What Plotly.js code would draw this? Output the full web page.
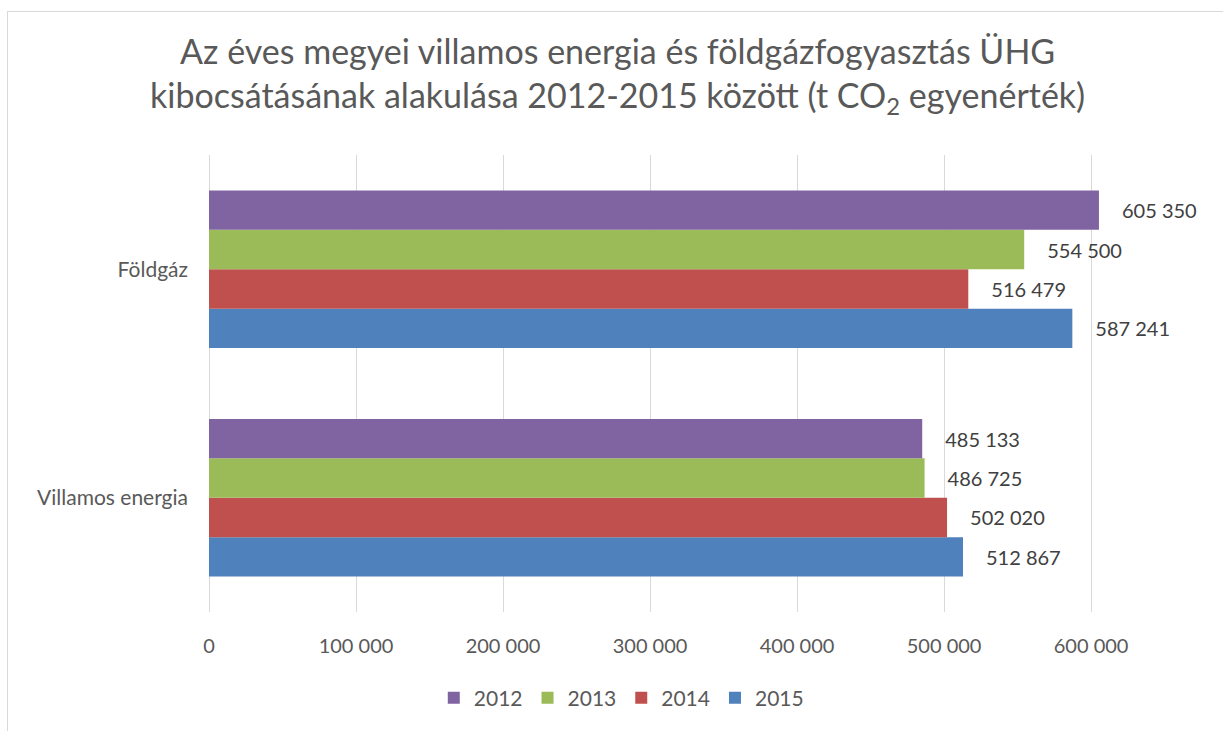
<!DOCTYPE html>
<html>
<head>
<meta charset="utf-8">
<script src="https://cdn.plot.ly/plotly-3.0.1.min.js"></script>
<style>
  html, body { margin: 0; padding: 0; background: #ffffff; }
  #wrap { position: relative; width: 1223px; height: 731px; overflow: hidden; }
  #chart { position: absolute; left: 0; top: 0; width: 1223px; height: 731px; }
  #frame { position: absolute; left: 7px; top: 11px; width: 1230px; height: 740px;
           border-left: 1px solid #d9d9d9; border-top: 1px solid #d9d9d9; pointer-events: none; }
</style>
</head>
<body>
<div id="wrap">
  <div id="chart"></div>
  <div id="frame"></div>
</div>
<script>
// Data
const categories = ['Villamos energia', 'Földgáz'];
const years = ['2012', '2013', '2014', '2015'];
const values2012 = [485133, 605350];
const values2013 = [486725, 554500];
const values2014 = [502020, 516479];
const values2015 = [512867, 587241];
const colors = ['#8064A2', '#9BBB59', '#C0504D', '#4F81BD'];
const seriesValues = [values2012, values2013, values2014, values2015];
const xTicks = [0, 100000, 200000, 300000, 400000, 500000, 600000];

const font = 'Lato, "Open Sans", sans-serif';

// Plotly draws the first trace at the bottom of the group, so add in reverse
const traces = [];
for (let i = years.length - 1; i >= 0; i--) {
  traces.push({
    type: 'bar',
    orientation: 'h',
    name: years[i],
    y: categories,
    x: seriesValues[i],
    marker: { color: colors[i], line: { width: 0 } },
    texttemplate: '\u2002\u2002%{x:,d}',
    textposition: 'outside',
    cliponaxis: false,
    textfont: { family: font, size: 20, color: '#404040' },
    hoverinfo: 'x+name'
  });
}

const layout = {
  width: 1223,
  height: 731,
  separators: '. ',
  paper_bgcolor: '#ffffff',
  plot_bgcolor: '#ffffff',
  font: { family: font, color: '#595959', size: 20 },
  margin: { l: 209, r: 29, t: 155, b: 119 },
  barmode: 'group',
  bargap: 0.31,
  bargroupgap: 0,
  title: {
    text: 'Az éves megyei villamos energia és földgázfogyasztás ÜHG<br>kibocsátásának alakulása 2012-2015 között (t CO<sub>2</sub> egyenérték)',
    font: { family: font, size: 34, color: '#595959' },
    xref: 'container', x: 0.505, xanchor: 'center',
    yref: 'container', y: 1 - 64 / 731, yanchor: 'top'
  },
  xaxis: {
    range: [0, 670000],
    tickvals: xTicks,
    tickformat: ',d',
    showgrid: true,
    gridcolor: '#d9d9d9',
    gridwidth: 1,
    zeroline: true,
    zerolinecolor: '#d9d9d9',
    zerolinewidth: 1,
    showline: false,
    ticks: '',
    ticklabelstandoff: 20,
    tickfont: { family: font, size: 20, color: '#595959' },
    fixedrange: true
  },
  yaxis: {
    type: 'category',
    categoryorder: 'array',
    categoryarray: categories,
    showgrid: false,
    zeroline: false,
    showline: false,
    ticks: '',
    ticklabelstandoff: 20,
    tickfont: { family: font, size: 21, color: '#595959' },
    fixedrange: true
  },
  legend: {
    orientation: 'h',
    traceorder: 'reversed',
    xref: 'container', x: 0.508, xanchor: 'center',
    yref: 'container', y: 1 - 698 / 731, yanchor: 'middle',
    font: { family: font, size: 21, color: '#595959' },
    itemwidth: 30,
    bgcolor: 'rgba(0,0,0,0)'
  },
  showlegend: true
};

Plotly.newPlot('chart', traces, layout, { displayModeBar: false, staticPlot: true });
</script>
</body>
</html>
